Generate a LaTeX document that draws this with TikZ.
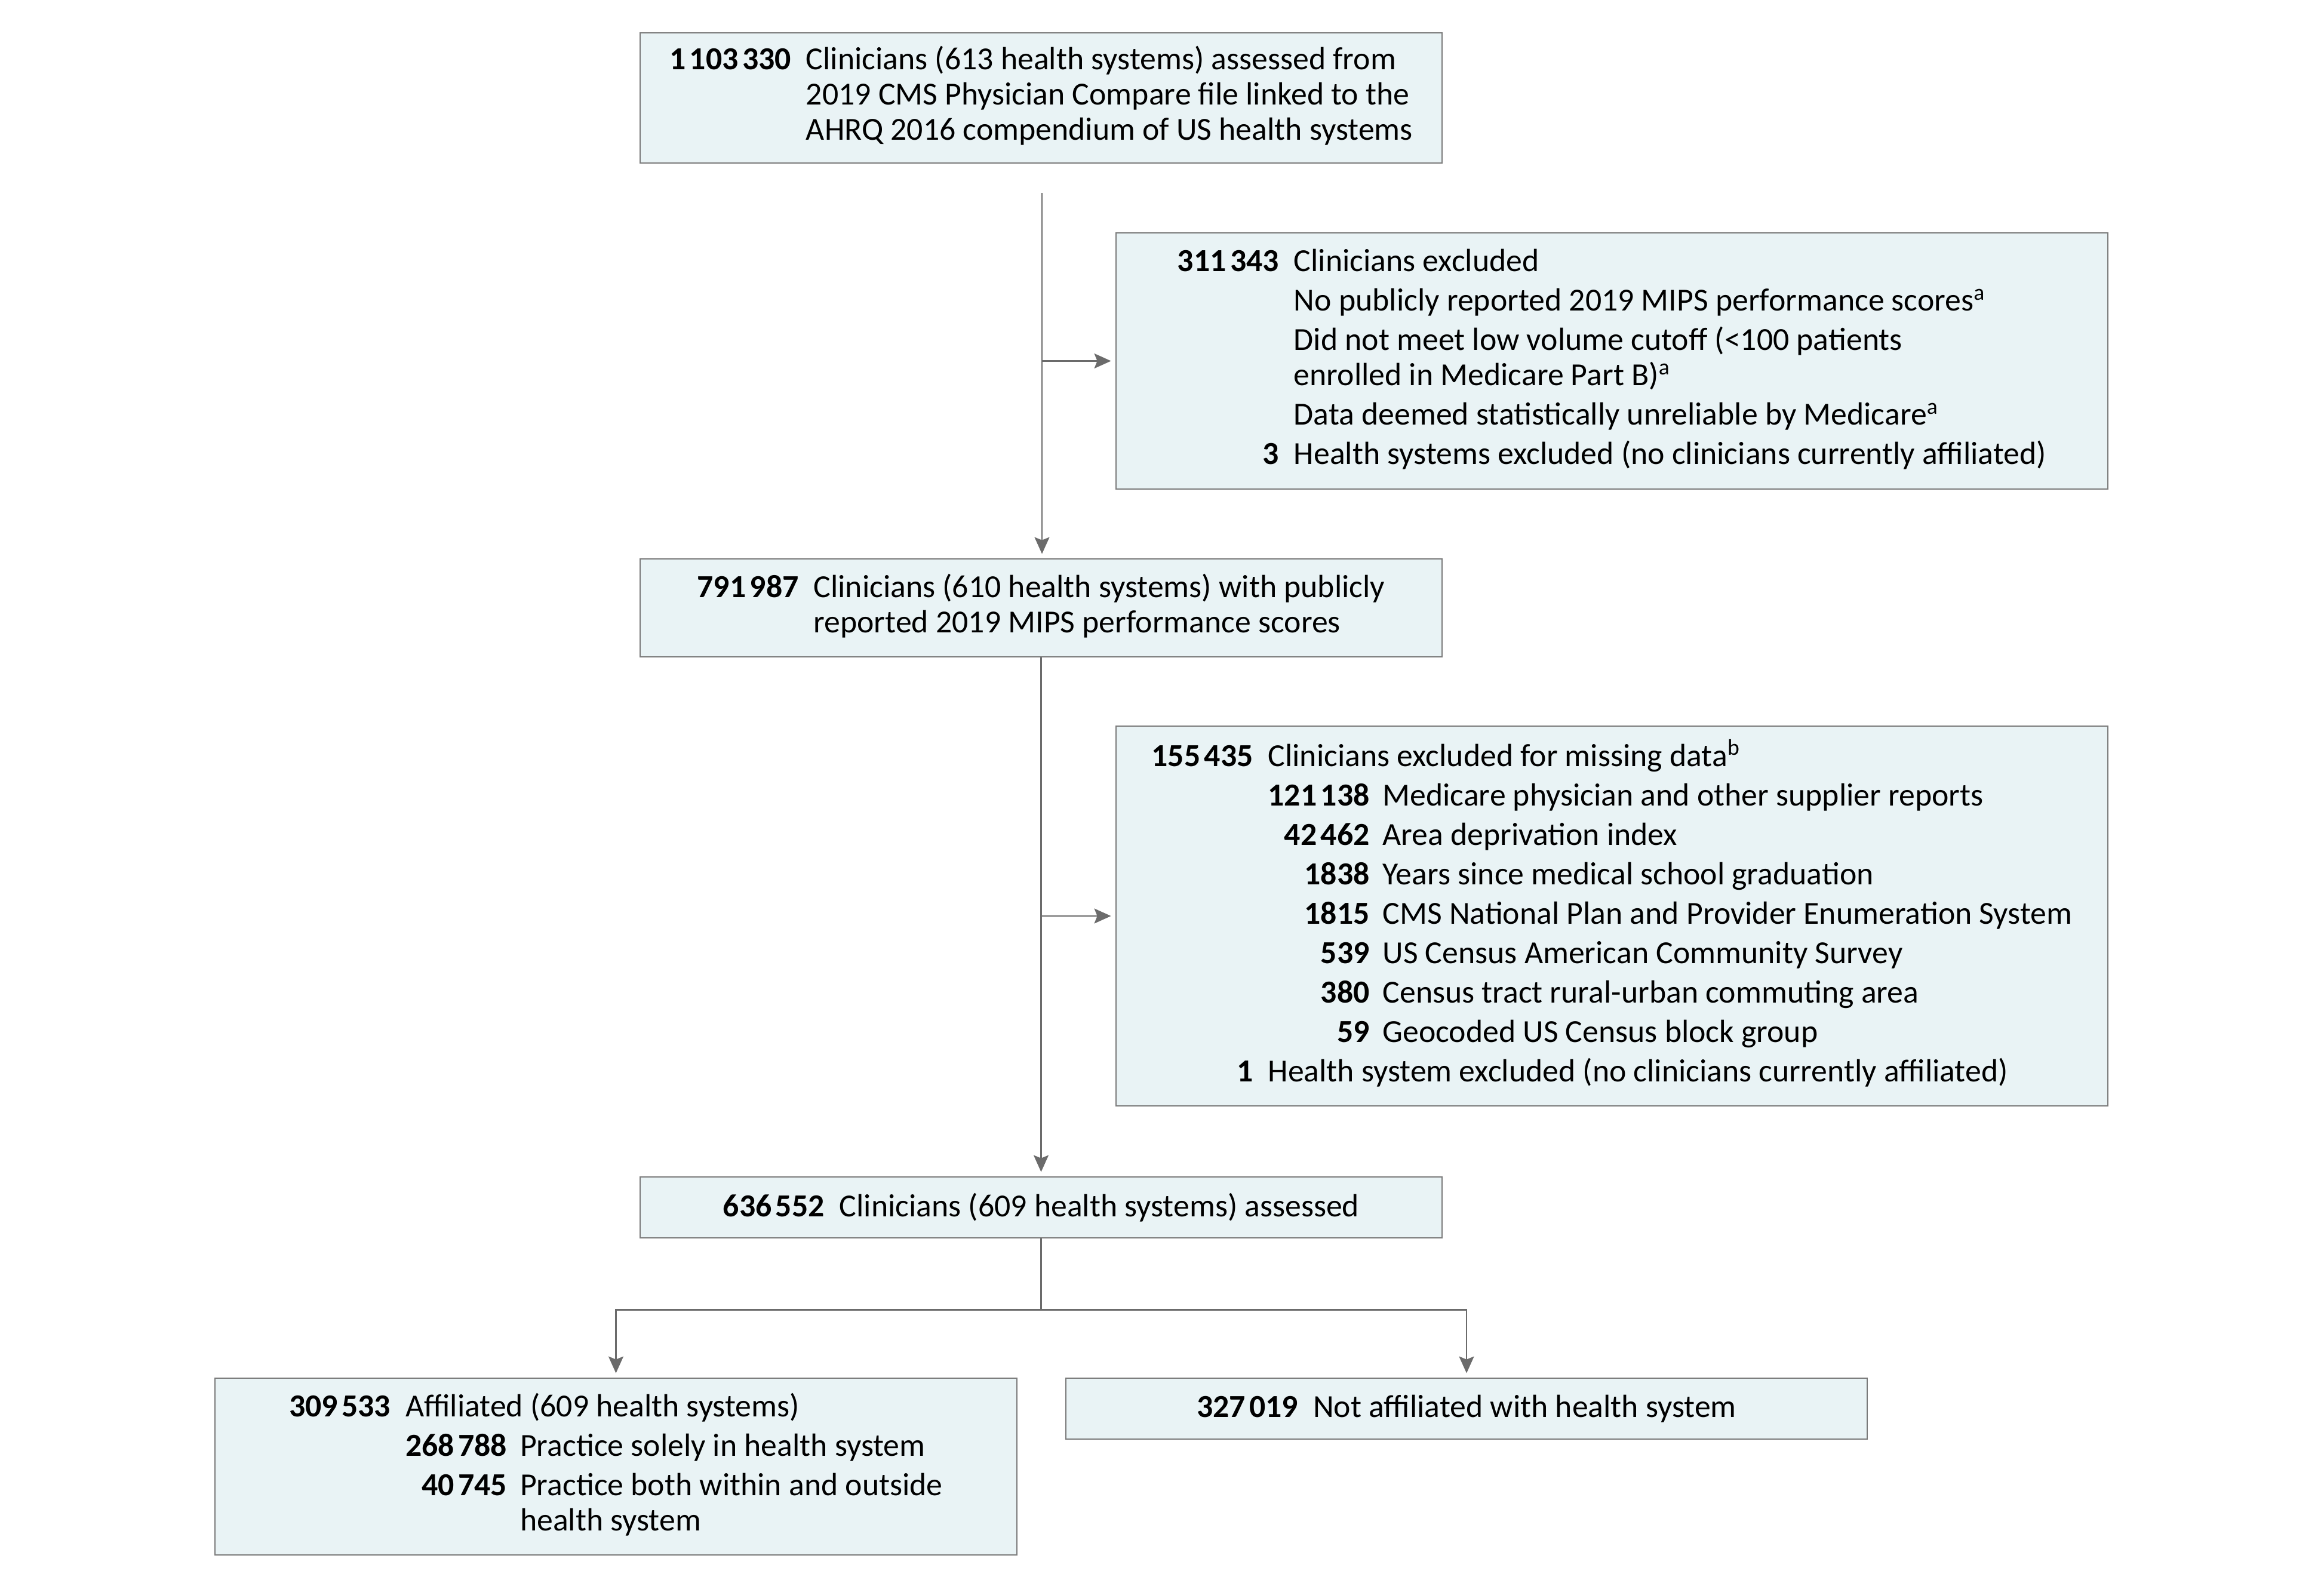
\documentclass[tikz,border=0pt]{standalone}
\usepackage{fontspec}
\setmainfont{Carlito}
\usetikzlibrary{arrows.meta}
\definecolor{boxfill}{HTML}{E9F3F5}
\definecolor{boxline}{HTML}{7A7A7A}
\definecolor{linegray}{HTML}{6B6B6B}
\newcommand{\tsp}{\hspace{0.12em}}

\begin{document}
\begin{tikzpicture}[
  flowbox/.style={rectangle,draw=boxline,line width=0.8pt,fill=boxfill,inner sep=0pt,align=left,
    font=\fontsize{15.3}{16.8}\selectfont},
  flowline/.style={draw=linegray,line width=0.7pt},
  flowarrow/.style={flowline,-{Stealth[length=0.28cm,width=0.25cm,inset=0.05cm]},shorten >=0.07cm}]
\useasboundingbox (0,0) rectangle (38.92,-26.5);

% main column
\node[flowbox,minimum width=13.43cm,minimum height=2.18cm] (pool) at (17.435,-1.64)
  {\begin{tabular}{@{}r@{\hspace{0.25cm}}l@{}}
  \textbf{1\tsp103\tsp330} & Clinicians (613 health systems) assessed from\\
  & 2019 CMS Physician Compare file linked to the\\
  & AHRQ 2016 compendium of US health systems
  \end{tabular}};
\node[flowbox,minimum width=13.43cm,minimum height=1.64cm] (screened) at (17.435,-10.18)
  {\begin{tabular}{@{}r@{\hspace{0.25cm}}l@{}}
  \textbf{791\tsp987} & Clinicians (610 health systems) with publicly\\
  & reported 2019 MIPS performance scores
  \end{tabular}};
\node[flowbox,minimum width=13.43cm,minimum height=1.02cm] (assessed) at (17.435,-20.22)
  {\textbf{636\tsp552}\hspace{0.25cm}Clinicians (609 health systems) assessed};

% exclusions
\node[flowbox,minimum width=16.61cm,minimum height=4.29cm] (excl1) at (26.995,-6.045)
  {\begin{tabular}{@{}r@{\hspace{0.25cm}}l@{}}
  \textbf{311\tsp343} & Clinicians excluded\\[2pt]
  & No publicly reported 2019 MIPS performance scores\textsuperscript{a}\\[2pt]
  & Did not meet low volume cutoff (<100 patients\\
  & enrolled in Medicare Part B)\textsuperscript{a}\\[2pt]
  & Data deemed statistically unreliable by Medicare\textsuperscript{a}\\[2pt]
  \textbf{3} & Health systems excluded (no clinicians currently affiliated)
  \end{tabular}};
\node[flowbox,minimum width=16.61cm,minimum height=6.36cm] (excl2) at (26.995,-15.34)
  {\begin{tabular}{@{}r@{\hspace{0.25cm}}r@{\hspace{0.22cm}}l@{}}
  \textbf{155\tsp435} & \multicolumn{2}{@{}l@{}}{Clinicians excluded for missing data\textsuperscript{b}}\\[2pt]
  & \textbf{121\tsp138} & Medicare physician and other supplier reports\\[2pt]
  & \textbf{42\tsp462} & Area deprivation index\\[2pt]
  & \textbf{1838} & Years since medical school graduation\\[2pt]
  & \textbf{1815} & CMS National Plan and Provider Enumeration System\\[2pt]
  & \textbf{539} & US Census American Community Survey\\[2pt]
  & \textbf{380} & Census tract rural-urban commuting area\\[2pt]
  & \textbf{59} & Geocoded US Census block group\\[2pt]
  \textbf{1} & \multicolumn{2}{@{}l@{}}{Health system excluded (no clinicians currently affiliated)}
  \end{tabular}};

% groups
\node[flowbox,minimum width=13.43cm,minimum height=2.96cm] (affil) at (10.315,-24.56)
  {\begin{tabular}{@{}r@{\hspace{0.25cm}}r@{\hspace{0.22cm}}l@{}}
  \textbf{309\tsp533} & \multicolumn{2}{@{}l@{}}{Affiliated (609 health systems)}\\[2pt]
  & \textbf{268\tsp788} & Practice solely in health system\\[2pt]
  & \textbf{40\tsp745} & Practice both within and outside\\
  & & health system
  \end{tabular}};
\node[flowbox,minimum width=13.42cm,minimum height=1.02cm] (nonaffil) at (24.56,-23.59)
  {\textbf{327\tsp019}\hspace{0.25cm}Not affiliated with health system};

% connectors
\coordinate (start) at (17.45,-3.23);
\draw[flowarrow] (start) -- (start |- screened.north);
\draw[flowarrow] (start |- excl1.west) -- (excl1.west);
\draw[flowarrow] (screened.south) -- (assessed.north);
\draw[flowarrow] (screened.south |- excl2.west) -- (excl2.west);
\coordinate (split) at ([yshift=-1.19cm]assessed.south);
\draw[flowline] (assessed.south) -- (split);
\draw[flowarrow] (split) -| (affil.north);
\draw[flowarrow] (split) -| (nonaffil.north);
\end{tikzpicture}
\end{document}
